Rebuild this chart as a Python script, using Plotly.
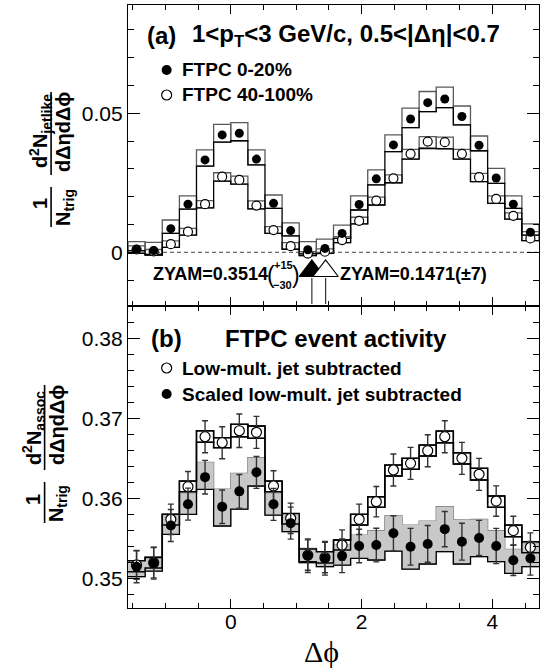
import plotly.graph_objects as go

# ---------------- data ----------------
dphi = [-1.440, -1.178, -0.916, -0.654, -0.393, -0.131, 0.131, 0.393, 0.654, 0.916,
        1.178, 1.440, 1.702, 1.963, 2.225, 2.487, 2.749, 3.011, 3.272, 3.534,
        3.796, 4.058, 4.320, 4.581]
bin_width = 0.2618

# panel (a): FTPC 0-20%
jet_c = [0.0011, 0.0006, 0.0085, 0.0173, 0.0332, 0.0422, 0.0428, 0.0335, 0.0176, 0.0078,
         0.0009, 0.0014, 0.0068, 0.0172, 0.0264, 0.0386, 0.0479, 0.0538, 0.0551, 0.0488,
         0.0385, 0.0267, 0.0173, 0.0072]
jet_c_hi = [0.0038, 0.0036, 0.0116, 0.0203, 0.0368, 0.0460, 0.0466, 0.0368, 0.0206, 0.0106,
            0.0038, 0.0047, 0.0098, 0.0203, 0.0296, 0.0422, 0.0518, 0.0578, 0.0594, 0.0526,
            0.0418, 0.0302, 0.0203, 0.0102]
jet_c_lo = [-0.0004, -0.0010, 0.0068, 0.0155, 0.0310, 0.0396, 0.0401, 0.0314, 0.0158, 0.0059,
            -0.0006, -0.0004, 0.0050, 0.0152, 0.0242, 0.0362, 0.0448, 0.0506, 0.0520, 0.0458,
            0.0365, 0.0248, 0.0158, 0.0062]
# panel (a): FTPC 40-100%
jet_p = [0.0010, 0.0003, 0.0029, 0.0074, 0.0173, 0.0272, 0.0260, 0.0168, 0.0080, 0.0022,
         -0.0005, 0.0002, 0.0044, 0.0113, 0.0186, 0.0266, 0.0354, 0.0398, 0.0396, 0.0354,
         0.0270, 0.0192, 0.0131, 0.0050]
jet_p_hi = [0.0023, 0.0010, 0.0041, 0.0086, 0.0186, 0.0286, 0.0274, 0.0185, 0.0092, 0.0035,
            0.0002, 0.0012, 0.0056, 0.0126, 0.0198, 0.0278, 0.0370, 0.0416, 0.0414, 0.0370,
            0.0284, 0.0203, 0.0142, 0.0074]
jet_p_lo = [0.0006, -0.0008, 0.0018, 0.0062, 0.0160, 0.0256, 0.0245, 0.0156, 0.0068, 0.0011,
            -0.0012, -0.0004, 0.0035, 0.0102, 0.0170, 0.0250, 0.0335, 0.0374, 0.0372, 0.0335,
            0.0254, 0.0176, 0.0119, 0.0042]
zyam_pos = [1.24, 1.45]

# panel (b): low-mult. jet subtracted
low_c = [0.35167, 0.35195, 0.35738, 0.36145, 0.36770, 0.36695, 0.36845, 0.36825, 0.36154, 0.35750,
         0.35290, 0.35260, 0.35416, 0.35738, 0.35958, 0.36354, 0.36437, 0.36595, 0.36770, 0.36500,
         0.36300, 0.35966, 0.35596, 0.35388]
low_err = [0.0018, 0.0019, 0.0019, 0.0019, 0.0020, 0.0020, 0.0021, 0.0020, 0.0019, 0.0019,
           0.0019, 0.0019, 0.0019, 0.0019, 0.0019, 0.0020, 0.0020, 0.0020, 0.0020, 0.0020,
           0.0020, 0.0019, 0.0018, 0.0018]
low_hi = [0.35220, 0.35260, 0.35800, 0.36216, 0.36845, 0.36758, 0.36925, 0.36904, 0.36216, 0.35810,
          0.35366, 0.35333, 0.35479, 0.35800, 0.36020, 0.36416, 0.36500, 0.36666, 0.36841, 0.36570,
          0.36375, 0.36029, 0.35666, 0.35458]
low_lo = [0.35083, 0.35130, 0.35666, 0.36083, 0.36700, 0.36633, 0.36770, 0.36750, 0.36083, 0.35680,
          0.35208, 0.35190, 0.35354, 0.35666, 0.35888, 0.36279, 0.36362, 0.36529, 0.36695, 0.36429,
          0.36229, 0.35888, 0.35520, 0.35320]
# panel (b): scaled low-mult. jet subtracted
scl_c = [0.35145, 0.35190, 0.35660, 0.35927, 0.36265, 0.35895, 0.36087, 0.36325, 0.35925, 0.35690,
         0.35283, 0.35250, 0.35281, 0.35404, 0.35416, 0.35563, 0.35395, 0.35430, 0.35615, 0.35458,
         0.35505, 0.35404, 0.35225, 0.35250]
scl_err = [0.0020, 0.0020, 0.0020, 0.0020, 0.0021, 0.0021, 0.0021, 0.0020, 0.0020, 0.0020,
           0.0021, 0.0021, 0.0021, 0.0021, 0.0021, 0.0022, 0.0023, 0.0023, 0.0022, 0.0023,
           0.0022, 0.0022, 0.0019, 0.0021]
scl_hi = [0.35216, 0.35270, 0.35800, 0.36062, 0.36450, 0.36116, 0.36312, 0.36508, 0.36062, 0.35804,
          0.35375, 0.35333, 0.35416, 0.35541, 0.35596, 0.35779, 0.35666, 0.35716, 0.35895, 0.35729,
          0.35738, 0.35596, 0.35362, 0.35437]
scl_lo = [0.35020, 0.35091, 0.35550, 0.35800, 0.36113, 0.35654, 0.35866, 0.36154, 0.35791, 0.35583,
          0.35195, 0.35145, 0.35166, 0.35250, 0.35229, 0.35341, 0.35116, 0.35179, 0.35333, 0.35179,
          0.35270, 0.35208, 0.35062, 0.35145]

x_range = [-1.5708, 4.7124]
ya_range = [-0.0192, 0.0889]
yb_range = [0.34629, 0.38408]

# ---------------- geometry ----------------
W, H = 546, 669
ML, MR, MT, MB = 128, 6.5, 5, 61
PW, PH = W - ML - MR, H - MT - MB
SPLIT_PIX = 305.7


def px(x):
    return (x - ML) / PW


def py(y):
    return (H - MB - y) / PH


split = py(SPLIT_PIX)


def xdata(xpix):
    return x_range[0] + (xpix - ML) / PW * (x_range[1] - x_range[0])


def ya_data(ypix):
    return ya_range[0] + (SPLIT_PIX - ypix) / (SPLIT_PIX - MT) * (ya_range[1] - ya_range[0])


def yb_data(ypix):
    return yb_range[0] + (H - MB - ypix) / (H - MB - SPLIT_PIX) * (yb_range[1] - yb_range[0])


SANS = "Liberation Sans, Arial, sans-serif"
SERIF = "Liberation Serif, Times New Roman, serif"

fig = go.Figure()


def diff(a, b):
    return [u - v for u, v in zip(a, b)]


edges = [c - bin_width / 2 for c in dphi] + [dphi[-1] + bin_width / 2]


def step_xy(vals):
    xs, ys = [], []
    for i, v in enumerate(vals):
        xs += [edges[i], edges[i + 1]]
        ys += [v, v]
    return xs, ys


def step_line(vals, xa, ya, color="black", width=1.3):
    xs, ys = step_xy(vals)
    fig.add_trace(go.Scatter(x=xs, y=ys, mode="lines",
                             line=dict(color=color, width=width),
                             xaxis=xa, yaxis=ya, showlegend=False, hoverinfo="skip"))


def band(hi, lo, xa, ya, fill):
    xh, yh = step_xy(hi)
    xl, yl = step_xy(lo)
    fig.add_trace(go.Scatter(x=xh + xl[::-1], y=yh + yl[::-1], mode="lines", fill="toself",
                             fillcolor=fill, line=dict(width=0, color=fill),
                             xaxis=xa, yaxis=ya, showlegend=False, hoverinfo="skip"))


def boxes(hi, lo, xa, ya, edge, width):
    fig.add_trace(go.Bar(x=dphi, y=diff(hi, lo), base=lo, width=bin_width,
                         marker=dict(color="rgba(0,0,0,0)", line=dict(color=edge, width=width)),
                         xaxis=xa, yaxis=ya, showlegend=False, hoverinfo="skip"))


# ---- panel (a) boxes ----
boxes(jet_c_hi, jet_c_lo, "x2", "y2", "#5a5a5a", 1.3)
boxes(jet_p_hi, jet_p_lo, "x2", "y2", "#5a5a5a", 1.3)
step_line(jet_c_lo, "x2", "y2")
step_line(jet_p_lo, "x2", "y2")
# zero line
fig.add_trace(go.Scatter(x=x_range, y=[0, 0], mode="lines",
                         line=dict(color="#444", width=1, dash="4px,3px"),
                         xaxis="x2", yaxis="y2", showlegend=False, hoverinfo="skip"))
fig.add_trace(go.Scatter(x=dphi, y=jet_p, mode="markers",
                         marker=dict(symbol="circle", size=9, color="white",
                                     line=dict(color="black", width=1.2)),
                         xaxis="x2", yaxis="y2", showlegend=False))
fig.add_trace(go.Scatter(x=dphi, y=jet_c, mode="markers",
                         marker=dict(symbol="circle", size=9, color="black"),
                         xaxis="x2", yaxis="y2", showlegend=False))

# ZYAM arrows
tri_y = ya_data(271)
for xp, filled in zip(zyam_pos, [True, False]):
    fig.add_trace(go.Scatter(x=[xp, xp], y=[ya_data(278), ya_data(304)], mode="lines",
                             line=dict(color="#333", width=1.2),
                             xaxis="x2", yaxis="y2", showlegend=False, hoverinfo="skip"))
    fig.add_trace(go.Scatter(x=[xp], y=[tri_y], mode="markers",
                             marker=dict(symbol="triangle-up", size=22,
                                         color="black" if filled else "white",
                                         line=dict(color="black", width=1.2)),
                             xaxis="x2", yaxis="y2", showlegend=False, hoverinfo="skip"))

# legend markers (a)
fig.add_trace(go.Scatter(x=[xdata(166.7)], y=[ya_data(70)], mode="markers",
                         marker=dict(symbol="circle", size=10, color="black"),
                         xaxis="x2", yaxis="y2", showlegend=False, hoverinfo="skip"))
fig.add_trace(go.Scatter(x=[xdata(166.7)], y=[ya_data(95)], mode="markers",
                         marker=dict(symbol="circle", size=10, color="white",
                                     line=dict(color="black", width=1.2)),
                         xaxis="x2", yaxis="y2", showlegend=False, hoverinfo="skip"))

# ---- panel (b) ----
band(scl_hi, scl_lo, "x", "y", "#c8c8c8")
boxes(scl_hi, scl_lo, "x", "y", "#7a7a7a", 1.3)
step_line(scl_lo, "x", "y")
boxes(low_hi, low_lo, "x", "y", "black", 1.3)
step_line(low_hi, "x", "y", width=1.5)
step_line(low_lo, "x", "y", width=1.5)
fig.add_trace(go.Scatter(x=dphi, y=low_c, mode="markers",
                         error_y=dict(type="data", array=low_err, color="#333", thickness=1.4, width=3),
                         marker=dict(symbol="circle", size=10, color="white",
                                     line=dict(color="black", width=1.2)),
                         xaxis="x", yaxis="y", showlegend=False))
fig.add_trace(go.Scatter(x=dphi, y=scl_c, mode="markers",
                         error_y=dict(type="data", array=scl_err, color="#333", thickness=1.4, width=3),
                         marker=dict(symbol="circle", size=10, color="black"),
                         xaxis="x", yaxis="y", showlegend=False))
# legend markers (b)
fig.add_trace(go.Scatter(x=[xdata(166.7)], y=[yb_data(368)], mode="markers",
                         marker=dict(symbol="circle", size=10, color="white",
                                     line=dict(color="black", width=1.2)),
                         xaxis="x", yaxis="y", showlegend=False, hoverinfo="skip"))
fig.add_trace(go.Scatter(x=[xdata(166.7)], y=[yb_data(394)], mode="markers",
                         marker=dict(symbol="circle", size=10, color="black"),
                         xaxis="x", yaxis="y", showlegend=False, hoverinfo="skip"))

# ---------------- axes ----------------
axis_common = dict(showline=True, linecolor="black", linewidth=1.4, mirror="ticks",
                   ticks="inside", tickcolor="black", tickwidth=1.2,
                   showgrid=False, zeroline=False,
                   tickfont=dict(family=SANS, size=21, color="black"))

minor_x = dict(tickvals=[-1.5, -1.0, -0.5, 0.5, 1.0, 1.5, 2.5, 3.0, 3.5, 4.5],
               ticklen=5, ticks="inside", tickcolor="black", tickwidth=1.2)
xaxis = dict(axis_common, domain=[0, 1], anchor="y", range=x_range,
             tickvals=[0, 2, 4], ticklen=9, minor=minor_x, ticklabelstandoff=-5)
xaxis2 = dict(axis_common, domain=[0, 1], anchor="y2", range=x_range, matches="x",
              tickvals=[0, 2, 4], ticklen=9, showticklabels=False, minor=minor_x)
yaxis = dict(axis_common, domain=[0, split], anchor="x", range=yb_range,
             tickvals=[0.35, 0.36, 0.37, 0.38], ticktext=["0.35", "0.36", "0.37", "0.38"],
             ticklen=12,
             minor=dict(dtick=0.002, tick0=0.35, ticklen=6, ticks="inside",
                        tickcolor="black", tickwidth=1.2))
yaxis2 = dict(axis_common, domain=[split, 1], anchor="x2", range=ya_range,
              tickvals=[0, 0.05], ticktext=["0", "0.05"], ticklen=12,
              minor=dict(dtick=0.01, tick0=0, ticklen=6, ticks="inside",
                         tickcolor="black", tickwidth=1.2))

annotations = []
shapes = []


def ann(text, xpix, ypix, size, xanchor="left", family=SANS, angle=0):
    annotations.append(dict(text=text, x=px(xpix), y=py(ypix), xref="paper", yref="paper",
                            xanchor=xanchor, yanchor="middle", showarrow=False,
                            textangle=angle,
                            font=dict(family=family, size=size, color="black")))


def vline_shape(x0, y0, y1):
    shapes.append(dict(type="line", xref="paper", yref="paper",
                       x0=px(x0), x1=px(x0), y0=py(y0), y1=py(y1),
                       line=dict(color="black", width=1.6)))


# panel (a) labels
ann("<b>(a)</b>", 145, 36, 24)
ann("<b>1&lt;p<sub>T</sub>&lt;3 GeV/c, 0.5&lt;|Δη|&lt;0.7</b>", 190, 36, 24)
ann("<b>FTPC 0-20%</b>", 180, 70, 19)
ann("<b>FTPC 40-100%</b>", 180, 95, 19)
ann("<b>ZYAM=0.3514</b>", 151, 274, 18)
ann("(", 265, 275, 23)
ann("<b>+15</b>", 272, 265, 11)
ann("<b>−30</b>", 271, 285, 11)
ann(")", 290, 275, 23)
ann("<b>ZYAM=0.1471(±7)</b>", 338, 274, 18)

# panel (b) labels
ann("<b>(b)</b>", 149, 338, 24)
ann("<b>FTPC event activity</b>", 223, 338, 24)
ann("<b>Low-mult. jet subtracted</b>", 180, 368, 19)
ann("<b>Scaled low-mult. jet subtracted</b>", 180, 394, 19)

# y titles (rotated)
ann("<b>1</b>", 40, 204, 20, xanchor="center", angle=-90)
ann("<b>N<sub>trig</sub></b>", 64, 208, 20, xanchor="center", angle=-90)
vline_shape(51, 187, 227)
ann("<b>d<sup>2</sup>N<sub>jetlike</sub></b>", 40, 131, 20, xanchor="center", angle=-90)
ann("<b>dΔηdΔϕ</b>", 63, 132, 20, xanchor="center", angle=-90)
vline_shape(51, 92, 175)

ann("<b>1</b>", 33, 500, 20, xanchor="center", angle=-90)
ann("<b>N<sub>trig</sub></b>", 57, 504, 20, xanchor="center", angle=-90)
vline_shape(44.5, 482, 523)
ann("<b>d<sup>2</sup>N<sub>assoc</sub></b>", 33, 428, 20, xanchor="center", angle=-90)
ann("<b>dΔηdΔϕ</b>", 57, 425, 20, xanchor="center", angle=-90)
vline_shape(44.5, 385, 470)

# x title
ann("Δϕ", 322, 651, 30, xanchor="center", family=SERIF)

fig.update_layout(
    width=W, height=H,
    margin=dict(l=ML, r=MR, t=MT, b=MB, pad=0),
    paper_bgcolor="white", plot_bgcolor="white",
    barmode="overlay", showlegend=False,
    xaxis=xaxis, xaxis2=xaxis2, yaxis=yaxis, yaxis2=yaxis2,
    annotations=annotations, shapes=shapes,
)

fig.write_html("out.html", config={"displayModeBar": False},
               post_script="document.body.style.margin='0';document.body.style.overflow='hidden';")
